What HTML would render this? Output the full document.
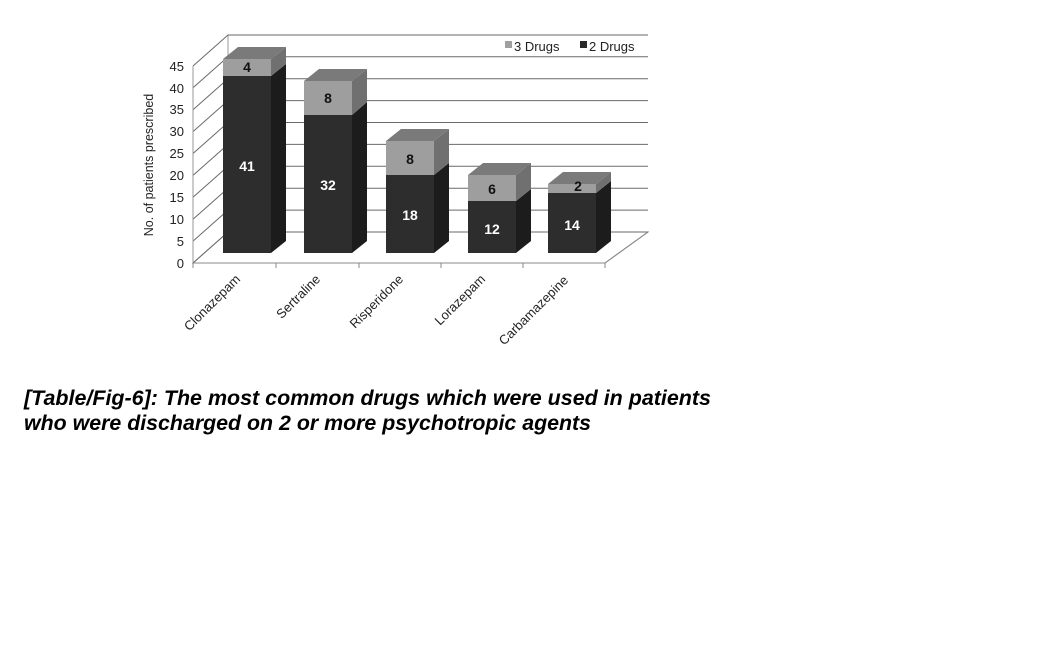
<!DOCTYPE html>
<html><head><meta charset="utf-8"><style>
html,body{margin:0;padding:0;background:#fff;}
svg{display:block;}
</style></head><body>
<svg width="1062" height="666" viewBox="0 0 1062 666" xmlns="http://www.w3.org/2000/svg" font-family="Liberation Sans, Arial, sans-serif">
<rect width="1062" height="666" fill="#fff"/>
<polygon points="193,263 605,263 648,232 228,232" fill="#fff" stroke="#888" stroke-width="1"/>
<g stroke="#6a6a6a" stroke-width="1" fill="none">
<line x1="228" y1="232" x2="228" y2="35" stroke="#999"/>
<path d="M193,263 L228,232 L648,232"/>
<path d="M193,241.1 L228,210.1 L648,210.1"/>
<path d="M193,219.2 L228,188.2 L648,188.2"/>
<path d="M193,197.3 L228,166.3 L648,166.3"/>
<path d="M193,175.4 L228,144.4 L648,144.4"/>
<path d="M193,153.5 L228,122.5 L648,122.5"/>
<path d="M193,131.6 L228,100.6 L648,100.6"/>
<path d="M193,109.7 L228,78.7 L648,78.7"/>
<path d="M193,87.8 L228,56.8 L648,56.8"/>
<path d="M193,66 L228,35 L648,35"/>
<line x1="193" y1="66" x2="193" y2="263" stroke="#999"/>
</g>
<g stroke="#888" stroke-width="1">
<line x1="193" y1="263" x2="193" y2="268"/><line x1="276" y1="263" x2="276" y2="268"/>
<line x1="359" y1="263" x2="359" y2="268"/><line x1="441" y1="263" x2="441" y2="268"/>
<line x1="523" y1="263" x2="523" y2="268"/><line x1="605" y1="263" x2="605" y2="268"/>
<line x1="605" y1="263" x2="648" y2="232"/>
</g>
<g font-size="13" fill="#222" text-anchor="end">
<text x="184" y="268">0</text><text x="184" y="246">5</text><text x="184" y="224">10</text>
<text x="184" y="202">15</text><text x="184" y="180">20</text><text x="184" y="158">25</text>
<text x="184" y="136">30</text><text x="184" y="114">35</text><text x="184" y="93">40</text>
<text x="184" y="71">45</text>
</g>
<text transform="translate(153,165) rotate(-90)" font-size="12.5" fill="#222" text-anchor="middle">No. of patients prescribed</text>
<rect x="505" y="41" width="7" height="7" fill="#a0a0a0"/>
<text x="514" y="51" font-size="13" fill="#222">3 Drugs</text>
<rect x="580" y="41" width="7" height="7" fill="#2a2a2a"/>
<text x="589" y="51" font-size="13" fill="#222">2 Drugs</text>
<g>
<polygon points="271,253 286,241 286,64 271,76" fill="#1c1c1c"/>
<rect x="223" y="76" width="48" height="177" fill="#2d2d2d"/>
<polygon points="271,76 286,64 286,47 271,59" fill="#707070"/>
<rect x="223" y="59" width="48" height="17" fill="#9e9e9e"/>
<polygon points="223,59 238,47 286,47 271,59" fill="#7a7a7a"/>
<text x="247" y="171" font-size="14" font-weight="bold" fill="#fff" text-anchor="middle">41</text>
<text x="247" y="72" font-size="14" font-weight="bold" fill="#111" text-anchor="middle">4</text>
</g>
<g>
<polygon points="352,253 367,241 367,102 352,115" fill="#1c1c1c"/>
<rect x="304" y="115" width="48" height="138" fill="#2d2d2d"/>
<polygon points="352,115 367,102 367,69 352,81" fill="#707070"/>
<rect x="304" y="81" width="48" height="34" fill="#9e9e9e"/>
<polygon points="304,81 319,69 367,69 352,81" fill="#7a7a7a"/>
<text x="328" y="190" font-size="14" font-weight="bold" fill="#fff" text-anchor="middle">32</text>
<text x="328" y="103" font-size="14" font-weight="bold" fill="#111" text-anchor="middle">8</text>
</g>
<g>
<polygon points="434,253 449,241 449,163 434,175" fill="#1c1c1c"/>
<rect x="386" y="175" width="48" height="78" fill="#2d2d2d"/>
<polygon points="434,175 449,163 449,129 434,141" fill="#707070"/>
<rect x="386" y="141" width="48" height="34" fill="#9e9e9e"/>
<polygon points="386,141 401,129 449,129 434,141" fill="#7a7a7a"/>
<text x="410" y="220" font-size="14" font-weight="bold" fill="#fff" text-anchor="middle">18</text>
<text x="410" y="164" font-size="14" font-weight="bold" fill="#111" text-anchor="middle">8</text>
</g>
<g>
<polygon points="516,253 531,241 531,189 516,201" fill="#1c1c1c"/>
<rect x="468" y="201" width="48" height="52" fill="#2d2d2d"/>
<polygon points="516,201 531,189 531,163 516,175" fill="#707070"/>
<rect x="468" y="175" width="48" height="26" fill="#9e9e9e"/>
<polygon points="468,175 483,163 531,163 516,175" fill="#7a7a7a"/>
<text x="492" y="234" font-size="14" font-weight="bold" fill="#fff" text-anchor="middle">12</text>
<text x="492" y="194" font-size="14" font-weight="bold" fill="#111" text-anchor="middle">6</text>
</g>
<g>
<polygon points="596,253 611,241 611,181 596,193" fill="#1c1c1c"/>
<rect x="548" y="193" width="48" height="60" fill="#2d2d2d"/>
<polygon points="596,193 611,181 611,172 596,184" fill="#707070"/>
<rect x="548" y="184" width="48" height="9" fill="#9e9e9e"/>
<polygon points="548,184 563,172 611,172 596,184" fill="#7a7a7a"/>
<text x="572" y="230" font-size="14" font-weight="bold" fill="#fff" text-anchor="middle">14</text>
<text x="578" y="191" font-size="14" font-weight="bold" fill="#111" text-anchor="middle">2</text>
</g>
<g font-size="13" fill="#222" text-anchor="end">
<text transform="translate(241,280) rotate(-45)">Clonazepam</text>
<text transform="translate(321,280) rotate(-45)">Sertraline</text>
<text transform="translate(404,280) rotate(-45)">Risperidone</text>
<text transform="translate(486,280) rotate(-45)">Lorazepam</text>
<text transform="translate(569,281) rotate(-45)">Carbamazepine</text>
</g>
<g font-size="21" font-weight="bold" font-style="italic" fill="#000">
<text x="24" y="405" textLength="687" lengthAdjust="spacingAndGlyphs">[Table/Fig-6]: The most common drugs which were used in patients</text>
<text x="24" y="430" textLength="567" lengthAdjust="spacingAndGlyphs">who were discharged on 2 or more psychotropic agents</text>
</g>
</svg>
</body></html>
